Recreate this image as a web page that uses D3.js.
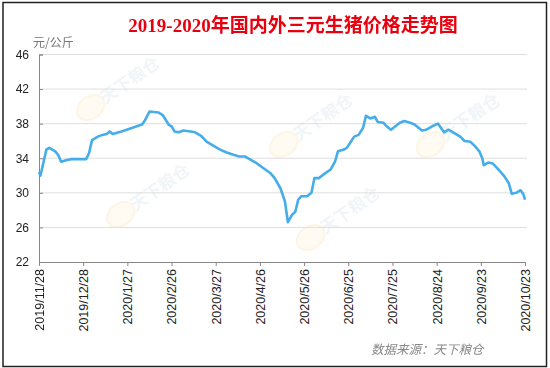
<!DOCTYPE html>
<html lang="zh">
<head>
<meta charset="UTF-8" />
<title>2019-2020年国内外三元生猪价格走势图</title>
<script src="https://d3js.org/d3.v7.min.js"></script>
<style>
    body { margin: 0; background: #fff; }
    svg { display: block; }
    .axis text { font-family: "Liberation Sans", Arial, sans-serif; fill: #222; }
    .axis path, .axis line { stroke: #888; }
</style>
</head>
<body>
<svg id="chart" width="550" height="368"></svg>
<script>
    // 数据
    const dates = [
        "2019-11-28", "2019-11-29", "2019-12-03", "2019-12-05", "2019-12-09", "2019-12-11",
        "2019-12-13", "2019-12-17", "2019-12-20", "2019-12-24", "2019-12-30", "2020-01-01",
        "2020-01-03", "2020-01-07", "2020-01-10", "2020-01-13", "2020-01-15", "2020-01-17",
        "2020-01-23", "2020-01-30", "2020-02-06", "2020-02-08", "2020-02-11", "2020-02-17",
        "2020-02-20", "2020-02-24", "2020-02-26", "2020-02-28", "2020-03-02", "2020-03-05",
        "2020-03-10", "2020-03-13", "2020-03-17", "2020-03-21", "2020-03-23", "2020-03-25",
        "2020-03-30", "2020-04-03", "2020-04-08", "2020-04-12", "2020-04-16", "2020-04-19",
        "2020-04-24", "2020-04-28", "2020-05-03", "2020-05-06", "2020-05-10", "2020-05-13",
        "2020-05-15", "2020-05-18", "2020-05-20", "2020-05-22", "2020-05-24", "2020-05-28",
        "2020-05-31", "2020-06-02", "2020-06-05", "2020-06-08", "2020-06-13", "2020-06-16",
        "2020-06-18", "2020-06-22", "2020-06-24", "2020-06-26", "2020-06-29", "2020-07-02",
        "2020-07-05", "2020-07-07", "2020-07-10", "2020-07-13", "2020-07-15", "2020-07-19",
        "2020-07-21", "2020-07-24", "2020-07-27", "2020-07-30", "2020-08-02", "2020-08-06",
        "2020-08-09", "2020-08-14", "2020-08-17", "2020-08-21", "2020-08-25", "2020-08-27",
        "2020-08-29", "2020-09-01", "2020-09-05", "2020-09-09", "2020-09-12", "2020-09-16",
        "2020-09-19", "2020-09-22", "2020-09-24", "2020-09-25", "2020-09-28", "2020-10-01",
        "2020-10-05", "2020-10-09", "2020-10-12", "2020-10-14", "2020-10-17", "2020-10-20",
        "2020-10-22", "2020-10-23"
    ];
    const prices = [
        32.4, 32.0, 35.0, 35.2, 34.8, 34.4,
        33.6, 33.8, 33.9, 33.9, 33.9, 34.6,
        36.1, 36.5, 36.7, 36.8, 37.1, 36.8,
        37.1, 37.5, 37.9, 38.4, 39.4, 39.3,
        39.0, 37.9, 37.7, 37.1, 37.0, 37.2,
        37.1, 37.0, 36.6, 35.9, 35.7, 35.5,
        35.0, 34.7, 34.4, 34.2, 34.2, 33.9,
        33.4, 32.9, 32.3, 31.7, 30.5, 29.0,
        26.6, 27.5, 27.8, 29.2, 29.6, 29.6,
        30.0, 31.7, 31.7, 32.1, 32.7, 33.6,
        34.8, 35.0, 35.2, 35.7, 36.5, 36.7,
        37.5, 38.9, 38.6, 38.8, 38.2, 38.1,
        37.7, 37.3, 37.7, 38.1, 38.3, 38.1,
        37.9, 37.2, 37.3, 37.7, 38.0, 37.5,
        37.0, 37.3, 36.9, 36.5, 36.0, 35.9,
        35.4, 34.8, 34.0, 33.2, 33.5, 33.4,
        32.7, 31.9, 31.1, 29.9, 30.0, 30.3,
        29.8, 29.2
    ];
    const tickDates = [
        "2019-11-28", "2019-12-28", "2020-01-27", "2020-02-26", "2020-03-27", "2020-04-26",
        "2020-05-26", "2020-06-25", "2020-07-25", "2020-08-24", "2020-09-23", "2020-10-23"
    ];
    const yTicks = [22, 26, 30, 34, 38, 42, 46];
    const watermarks = [[130, 80], [160, 187], [323, 117], [350, 210], [470, 117]];

    const parse = d3.timeParse("%Y-%m-%d");
    const fmt = d3.timeFormat("%Y/%-m/%-d");
    const data = dates.map((d, i) => ({ date: parse(d), value: prices[i] }));

    const svg = d3.select("#chart");

    // 外框
    svg.append("rect")
        .attr("x", 3).attr("y", 2.5)
        .attr("width", 543.5).attr("height", 364)
        .attr("fill", "#fff")
        .attr("stroke", "#222")
        .attr("stroke-width", 1.5);

    const x = d3.scaleTime()
        .domain([parse(dates[0]), parse(dates[dates.length - 1])])
        .range([39, 525]);
    const y = d3.scaleLinear().domain([22, 46]).range([262, 54.5]);

    // 水印
    const wm = svg.append("g").attr("opacity", 0.18);
    watermarks.forEach(([cx, cy]) => {
        const g = wm.append("g").attr("transform", `translate(${cx},${cy}) rotate(-35)`);
        g.append("ellipse")
            .attr("cx", -48).attr("cy", 0).attr("rx", 15).attr("ry", 11)
            .attr("fill", "#fbe6b8").attr("stroke", "#f3c66a").attr("stroke-width", 2);
        g.append("text")
            .attr("text-anchor", "middle").attr("dy", "0.35em")
            .attr("font-family", "Noto Sans CJK SC").attr("font-weight", "bold")
            .attr("font-size", 17).attr("fill", "#a9c3d6")
            .text("天下粮仓");
    });

    // 网格线
    svg.append("g")
        .selectAll("line")
        .data(yTicks.slice(1))
        .join("line")
        .attr("x1", 39).attr("x2", 527)
        .attr("y1", d => y(d)).attr("y2", d => y(d))
        .attr("stroke", "#dedede")
        .attr("stroke-width", 1);

    // y 轴
    const yAxis = svg.append("g")
        .attr("class", "axis")
        .attr("transform", "translate(39,0)")
        .call(d3.axisLeft(y).tickValues(yTicks).tickSize(-4).tickPadding(10));
    yAxis.selectAll("text").attr("font-size", 12);

    // x 轴
    const xAxis = svg.append("g")
        .attr("class", "axis")
        .attr("transform", "translate(0,262)")
        .call(d3.axisBottom(x).tickValues(tickDates.map(parse)).tickFormat(fmt).tickSize(4));
    xAxis.selectAll("text")
        .attr("font-size", 12.5)
        .attr("transform", "rotate(-90)")
        .attr("text-anchor", "end")
        .attr("x", -7)
        .attr("y", 0)
        .attr("dy", "0.35em");

    // 折线
    const line = d3.line()
        .x(d => x(d.date))
        .y(d => y(d.value));
    svg.append("path")
        .datum(data)
        .attr("fill", "none")
        .attr("stroke", "#45aeea")
        .attr("stroke-width", 2.6)
        .attr("stroke-linejoin", "round")
        .attr("d", line);

    // 标题与注释
    svg.append("text")
        .attr("x", 293).attr("y", 32)
        .attr("text-anchor", "middle")
        .attr("font-family", "'Liberation Serif', 'Noto Sans CJK SC', serif")
        .attr("font-weight", "bold")
        .attr("font-size", 19)
        .attr("fill", "#e8000f")
        .text("2019-2020年国内外三元生猪价格走势图");

    svg.append("text")
        .attr("x", 33).attr("y", 47)
        .attr("font-family", "'Noto Sans CJK SC', sans-serif")
        .attr("font-size", 12)
        .attr("fill", "#777")
        .text("元/公斤");

    svg.append("text")
        .attr("x", 371).attr("y", 354)
        .attr("font-family", "'Noto Sans CJK SC', sans-serif")
        .attr("font-style", "italic")
        .attr("font-size", 12.5)
        .attr("fill", "#888")
        .text("数据来源：天下粮仓");
</script>
</body>
</html>
